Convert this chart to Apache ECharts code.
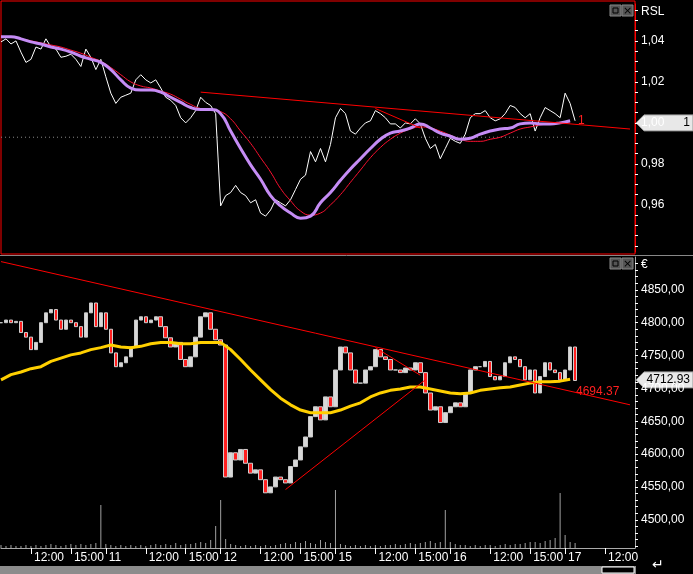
<!DOCTYPE html>
<html>
<head>
<meta charset="utf-8">
<script src="https://cdn.jsdelivr.net/npm/echarts@6/dist/echarts.min.js"></script>
<style>
html,body{margin:0;padding:0;background:#000;}
#main{width:693px;height:574px;}
</style>
</head>
<body>
<div id="main"></div>
<script>
// one category = 5px slot, 128 slots across the plot
const slotCount = 128;
const xTickIdx = [6, 14, 21, 29, 37, 44, 52, 60, 67, 75, 83, 90, 98, 106, 113, 121];
const xTickLabels = ['12:00', '15:00', '11', '12:00', '15:00', '12', '12:00', '15:00', '15', '12:00', '15:00', '16', '12:00', '15:00', '17', '12:00'];

// price closes (every slot)
const closes = [4800, 4804, 4800, 4802, 4785, 4778, 4759, 4770, 4800, 4815, 4820, 4804, 4790, 4804, 4800, 4794, 4778, 4815, 4830, 4794,
  4815, 4790, 4754, 4733, 4739, 4748, 4763, 4804, 4809, 4800, 4804, 4809, 4794, 4777, 4763, 4770, 4744, 4733, 4748, 4778,
  4809, 4815, 4790, 4774, 4766, 4565, 4602, 4591, 4607, 4586, 4571, 4576, 4561, 4541, 4550, 4565, 4561, 4556, 4581, 4591,
  4611, 4626, 4657, 4672, 4652, 4687, 4672, 4728, 4763, 4754, 4728, 4708, 4708, 4728, 4733, 4759, 4748, 4744, 4728, 4728,
  4724, 4731, 4728, 4739, 4724, 4693, 4667, 4672, 4648, 4663, 4672, 4678, 4672, 4693, 4728, 4733, 4733, 4741, 4718, 4713,
  4718, 4739, 4748, 4744, 4733, 4713, 4728, 4693, 4718, 4739, 4728, 4724, 4713, 4728, 4763, 4712];
// yellow average (every second slot)
const priceMa = [4713, 4721, 4725, 4730, 4733, 4741, 4746, 4751, 4754, 4759, 4762, 4766, 4763, 4762, 4764, 4768, 4770, 4770, 4768, 4768,
  4770, 4770, 4770, 4759, 4744, 4728, 4713, 4698, 4685, 4675, 4667, 4663, 4663, 4663, 4667, 4673, 4678, 4687, 4693, 4697,
  4699, 4702, 4702, 4699, 4696, 4693, 4692, 4693, 4697, 4699, 4701, 4702, 4705, 4708, 4710, 4710, 4711, 4714];
const volume = [3, 2, 3, 2, 2, 3, 2, 3, 2, 3, 4, 3, 2, 3, 4, 3, 4, 3, 4, 5,
  43, 4, 3, 2, 3, 2, 3, 2, 3, 2, 3, 4, 3, 4, 3, 5, 3, 4, 4, 5,
  6, 5, 8, 22, 48, 9, 4, 3, 2, 3, 2, 3, 2, 3, 2, 3, 4, 5, 4, 6,
  5, 7, 5, 4, 8, 6, 5, 58, 4, 3, 2, 3, 2, 3, 2, 3, 2, 3, 3, 4,
  3, 4, 5, 4, 5, 6, 7, 5, 6, 38, 6, 4, 3, 3, 2, 3, 2, 3, 3, 2,
  3, 4, 3, 4, 4, 5, 6, 6, 5, 7, 8, 10, 55, 13, 6, 5];

// RSL (every slot) and its two averages (every second slot)
const rsl = [1.0395, 1.041, 1.0385, 1.04, 1.0345, 1.0295, 1.031, 1.037, 1.036, 1.041, 1.037, 1.036, 1.032, 1.0325, 1.0335, 1.031, 1.0275, 1.036, 1.032, 1.026,
  1.031, 1.0225, 1.0145, 1.0095, 1.0125, 1.0135, 1.0145, 1.021, 1.0235, 1.021, 1.0195, 1.021, 1.017, 1.0125, 1.011, 1.0085, 1.0025, 1.0, 1.0025, 1.006,
  1.0125, 1.01, 1.0085, 1.0045, 0.9595, 0.9645, 0.966, 0.9695, 0.966, 0.9645, 0.961, 0.9625, 0.956, 0.9545, 0.9575, 0.9625, 0.961, 0.9595, 0.9625, 0.9675,
  0.9725, 0.9745, 0.986, 0.981, 0.9875, 0.981, 0.9895, 1.0025, 1.007, 1.0045, 0.996, 0.9945, 0.9975, 1.0, 1.001, 1.006, 1.0045, 1.0025, 0.9995, 0.9995,
  0.9975, 1.0, 0.9995, 1.002, 0.9995, 0.9925, 0.9875, 0.9895, 0.9825, 0.9875, 0.9925, 0.991, 0.99, 0.9945, 1.0025, 1.0045, 1.0045, 1.006, 1.0025, 1.001,
  1.002, 1.0045, 1.0085, 1.0075, 1.0045, 1.0025, 1.0045, 0.996, 1.0025, 1.0075, 1.006, 1.0045, 1.0025, 1.0145, 1.0095, 1.001];
const rslFast = [1.042, 1.042, 1.041, 1.0395, 1.0385, 1.037, 1.036, 1.0345, 1.0325, 1.031, 1.0295, 1.026, 1.021, 1.017, 1.016, 1.016, 1.015, 1.0125, 1.01, 1.0075,
  1.0065, 1.0065, 1.0045, 0.996, 0.9875, 0.9795, 0.9725, 0.9645, 0.9595, 0.956, 0.9535, 0.9545, 0.961, 0.966, 0.972, 0.9775, 0.9825, 0.9875, 0.992, 0.995,
  0.996, 0.9975, 0.9995, 0.9975, 0.995, 0.9935, 0.992, 0.9925, 0.9945, 0.996, 0.997, 0.9975, 0.9995, 1.0, 0.9995, 0.9995, 1.0, 1.001];
const rslSlow = [1.042, 1.042, 1.041, 1.04, 1.039, 1.038, 1.037, 1.0355, 1.034, 1.032, 1.03, 1.027, 1.0235, 1.02, 1.018, 1.017, 1.0155, 1.014, 1.0115, 1.009,
  1.007, 1.0065, 1.0055, 1.002, 0.996, 0.99, 0.983, 0.976, 0.968, 0.962, 0.957, 0.955, 0.956, 0.96, 0.965, 0.971, 0.977, 0.983, 0.988, 0.992,
  0.995, 0.997, 0.998, 0.9975, 0.996, 0.994, 0.992, 0.991, 0.991, 0.992, 0.993, 0.995, 0.997, 0.998, 0.999, 0.9995, 1.0, 1.0];

const rslTicks = [0.94, 0.945, 0.95, 0.955, 0.96, 0.965, 0.97, 0.975, 0.98, 0.985, 0.99, 0.995, 1.0, 1.005, 1.01, 1.015, 1.02, 1.025, 1.03, 1.035, 1.04, 1.045, 1.05, 1.055];
const rslLabels = [0.96, 0.98, 1.0, 1.02, 1.04];
const priceTicks = [4460, 4470, 4480, 4490, 4500, 4510, 4520, 4530, 4540, 4550, 4560, 4570, 4580, 4590, 4600, 4610, 4620, 4630, 4640, 4650, 4660, 4670, 4680, 4690, 4700,
  4710, 4720, 4730, 4740, 4750, 4760, 4770, 4780, 4790, 4800, 4810, 4820, 4830, 4840, 4850, 4860, 4870, 4880, 4890];
const priceLabels = [4500, 4550, 4600, 4650, 4700, 4750, 4800, 4850];

const lastPrice = 4712.93;
const lineMark = 4694.37;

const cats = [];
for (let i = 0; i < slotCount; i++) cats.push(i);
const candles = closes.map((c, i) => {
  const o = i ? closes[i - 1] : c;
  return [o, c, Math.min(o, c), Math.max(o, c)];
});
const every2 = arr => arr.map((v, i) => [i * 2, v]);

const chart = echarts.init(document.getElementById('main'));
const axisFont = { color: '#fff', fontFamily: 'Liberation Sans', fontSize: 12 };
const xBase = {
  type: 'category', data: cats, boundaryGap: false,
  axisLine: { show: false }, axisTick: { show: false }, axisLabel: { show: false }, splitLine: { show: false }
};
const yBase = (idx, min, max, ticks, labels, fmt) => ({
  type: 'value', gridIndex: idx, position: 'right', min: min, max: max, scale: true,
  axisLine: { show: true, lineStyle: { color: idx ? '#aaa' : '#ff0000' } },
  axisTick: { show: true, customValues: ticks, length: 3, inside: false, lineStyle: { color: '#fff' } },
  axisLabel: Object.assign({ customValues: labels, formatter: fmt, margin: 6 }, axisFont),
  splitLine: { show: false }
});

chart.setOption({
  backgroundColor: '#000',
  animation: false,
  grid: [
    { left: 1, right: 58, top: 4, height: 248 },
    { left: 1, right: 58, top: 257, height: 291 }
  ],
  xAxis: [
    Object.assign({ gridIndex: 0 }, xBase),
    Object.assign({}, xBase, {
      gridIndex: 1,
      axisLine: { show: true, lineStyle: { color: '#aaa' } },
      axisTick: { show: true, customValues: xTickIdx, length: 6, lineStyle: { color: '#fff' } },
      axisLabel: Object.assign({
        show: true, customValues: xTickIdx, align: 'left', padding: [0, 0, 0, 3], margin: 4,
        formatter: (v) => xTickLabels[xTickIdx.indexOf(Number(v))]
      }, axisFont)
    })
  ],
  yAxis: [
    yBase(0, 0.937, 1.058, rslTicks, rslLabels, v => v.toFixed(2).replace('.', ',')),
    yBase(1, 4457, 4900, priceTicks, priceLabels, v => v.toFixed(2).replace('.', ',')),
    { type: 'value', gridIndex: 1, min: 0, max: 291, show: false }
  ],
  series: [
    { type: 'line', xAxisIndex: 0, yAxisIndex: 0, data: [[0, 0.993], [115, 0.993]], symbol: 'none',
      lineStyle: { color: '#888', width: 1, type: [1, 3] } },
    { type: 'line', xAxisIndex: 0, yAxisIndex: 0, data: rsl, symbol: 'none', lineStyle: { color: '#fff', width: 1 } },
    { type: 'line', xAxisIndex: 0, yAxisIndex: 0, data: every2(rslSlow), symbol: 'none', smooth: true, lineStyle: { color: '#ff1030', width: 1 } },
    { type: 'line', xAxisIndex: 0, yAxisIndex: 0, data: every2(rslFast), symbol: 'none', smooth: true, lineStyle: { color: '#c58cf5', width: 3 } },
    { type: 'line', xAxisIndex: 0, yAxisIndex: 0, data: [[40, 1.015], [126, 0.997]], symbol: 'none', lineStyle: { color: '#ff0000', width: 1 } },
    { type: 'line', xAxisIndex: 0, yAxisIndex: 0, data: [[75, 1.007], [84, 0.9975]], symbol: 'none', lineStyle: { color: '#ff0000', width: 1 } },

    { type: 'bar', xAxisIndex: 1, yAxisIndex: 2, data: volume, barWidth: 1, itemStyle: { color: '#a0a0a0' } },
    { type: 'candlestick', xAxisIndex: 1, yAxisIndex: 1, data: candles, barWidth: 4,
      itemStyle: { color: '#d8d8d8', color0: '#ff2020', borderColor: '#c8c8c8', borderColor0: '#d0d0d0', borderWidth: 1 } },
    { type: 'line', xAxisIndex: 1, yAxisIndex: 1, data: every2(priceMa), symbol: 'none', lineStyle: { color: '#ffd000', width: 3 } },
    { type: 'line', xAxisIndex: 1, yAxisIndex: 1, data: [[0, 4893], [126, 4675]], symbol: 'none', lineStyle: { color: '#ff0000', width: 1 } },
    { type: 'line', xAxisIndex: 1, yAxisIndex: 1, data: [[57, 4546], [85, 4713]], symbol: 'none', lineStyle: { color: '#ff0000', width: 1 } },
    { type: 'line', xAxisIndex: 1, yAxisIndex: 1, data: [[75, 4762], [84, 4720]], symbol: 'none', lineStyle: { color: '#ff0000', width: 1 } }
  ]
});

const yRsl = chart.convertToPixel({ yAxisIndex: 0 }, 1.0);
const yPrice = chart.convertToPixel({ yAxisIndex: 1 }, lastPrice);
const yMark = chart.convertToPixel({ yAxisIndex: 1 }, lineMark);
const valueBox = (y, txt) => ({
  type: 'group', children: [
    { type: 'polygon', shape: { points: [[636, y], [644, y - 8], [693, y - 8], [693, y + 8], [644, y + 8]] },
      style: { fill: '#e8e8e8', stroke: '#999' } },
    { type: 'text', x: 690, y: y, style: { text: txt, fill: '#000', font: '12px Liberation Sans', align: 'right', verticalAlign: 'middle' } }
  ]
});
const buttons = (y) => ({
  type: 'group', children: [
    { type: 'rect', shape: { x: 610, y: y, width: 11, height: 11 }, style: { fill: '#555', stroke: '#888' } },
    { type: 'rect', shape: { x: 613, y: y + 3, width: 5, height: 5 }, style: { fill: 'none', stroke: '#000' } },
    { type: 'rect', shape: { x: 622, y: y, width: 11, height: 11 }, style: { fill: '#555', stroke: '#888' } },
    { type: 'text', x: 627.5, y: y + 6, style: { text: '×', fill: '#000', font: '11px DejaVu Sans', align: 'center', verticalAlign: 'middle' } }
  ]
});
chart.setOption({
  graphic: [
    { type: 'rect', shape: { x: 1, y: 1, width: 634, height: 253 }, style: { fill: 'none', stroke: '#ff0000', lineWidth: 1 } },
    { type: 'line', shape: { x1: 0, y1: 255.5, x2: 693, y2: 255.5 }, style: { stroke: '#888' } },
    buttons(5), buttons(258),
    { type: 'text', x: 641, y: 6, style: { text: 'RSL', fill: '#fff', font: '12px Liberation Sans' } },
    { type: 'text', x: 641, y: 259, style: { text: '€', fill: '#fff', font: '12px Liberation Sans' } },
    valueBox(yRsl, '1'),
    valueBox(yPrice, '4712,93'),
    { type: 'text', x: 578, y: yRsl - 8, style: { text: '1', fill: '#ff2020', font: '12px Liberation Sans' } },
    { type: 'text', x: 576, y: yMark - 6, style: { text: '4694.37', fill: '#ff2020', font: '12px Liberation Sans' } },
    { type: 'rect', shape: { x: 0, y: 566, width: 636, height: 8 }, style: { fill: '#8c8c8c' } },
    { type: 'rect', shape: { x: 602, y: 567, width: 32, height: 6 }, style: { fill: '#000', stroke: '#fff' } },
    { type: 'text', x: 652, y: 558, style: { text: '↵', fill: '#fff', font: '14px DejaVu Sans' } }
  ]
});
</script>
</body>
</html>
